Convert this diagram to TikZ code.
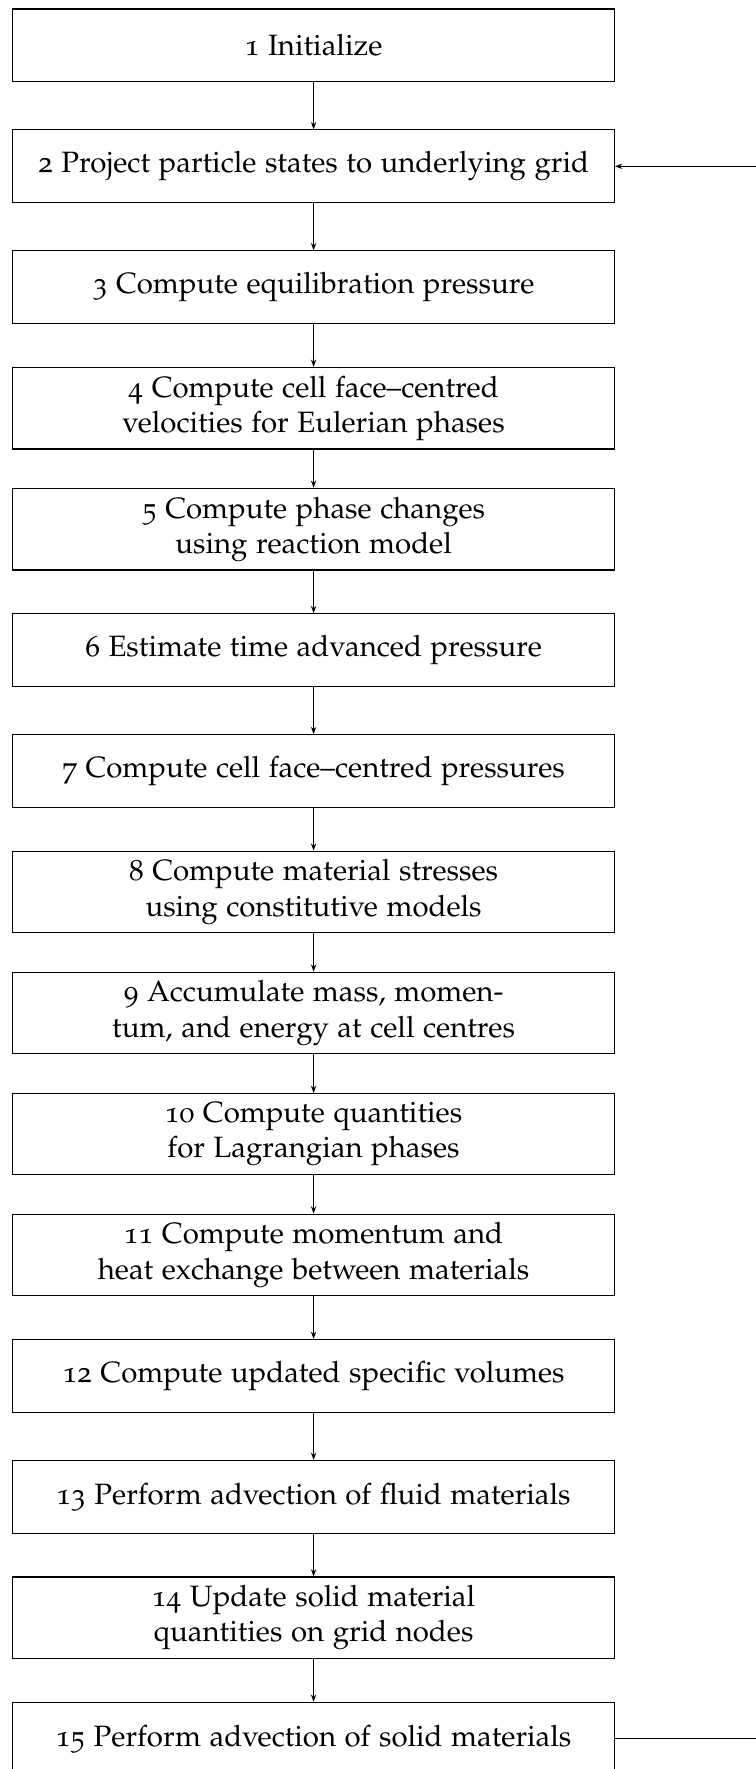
\documentclass[tikz,border=0pt]{standalone}
\usepackage[T1]{fontenc}
\usepackage[osf]{mathpazo}
\usetikzlibrary{positioning,arrows.meta}

\begin{document}
\begin{tikzpicture}[x=1pt,y=1pt]
  \tikzset{stepbox/.style = {draw, minimum width=214.9pt, minimum height=26pt, inner sep=3pt, align=center,
                             font=\fontsize{10.5pt}{12.6pt}\selectfont},
           flow/.style = {-{Stealth[length=2.6pt,width=1.9pt]}}}
  \useasboundingbox (0,0) rectangle (270,-631.8);
  \node[stepbox] (s1) at (112,-16.2) {1 Initialize};
  \begin{scope}[node distance=43.2pt, on grid]
    \node[stepbox, below=of s1] (s2) {2 Project particle states to underlying grid};
    \node[stepbox, below=of s2] (s3) {3 Compute equilibration pressure};
    \node[stepbox, below=of s3] (s4) {4 Compute cell face--centred\\velocities for Eulerian phases};
    \node[stepbox, below=of s4] (s5) {5 Compute phase changes\\using reaction model};
    \node[stepbox, below=of s5] (s6) {6 Estimate time advanced pressure};
    \node[stepbox, below=of s6] (s7) {7 Compute cell face--centred pressures};
    \node[stepbox, below=of s7] (s8) {8 Compute material stresses\\using constitutive models};
    \node[stepbox, below=of s8] (s9) {9 Accumulate mass, momen-\\tum, and energy at cell centres};
    \node[stepbox, below=of s9] (s10) {10 Compute quantities\\for Lagrangian phases};
    \node[stepbox, below=of s10] (s11) {11 Compute momentum and\\heat exchange between materials};
    \node[stepbox, below=of s11] (s12) {12 Compute updated specific volumes};
    \node[stepbox, below=of s12] (s13) {13 Perform advection of fluid materials};
    \node[stepbox, below=of s13] (s14) {14 Update solid material\\quantities on grid nodes};
    \node[stepbox, below=of s14] (s15) {15 Perform advection of solid materials};
  \end{scope}
  \foreach \i [count=\j from 2] in {1,...,14}
    \draw[flow] (s\i) -- (s\j);
  % loop back to step 2
  \coordinate (back) at (271.5,0);
  \draw[flow] (s15.east) -- (s15.east -| back) |- (s2.east);
\end{tikzpicture}
\end{document}
